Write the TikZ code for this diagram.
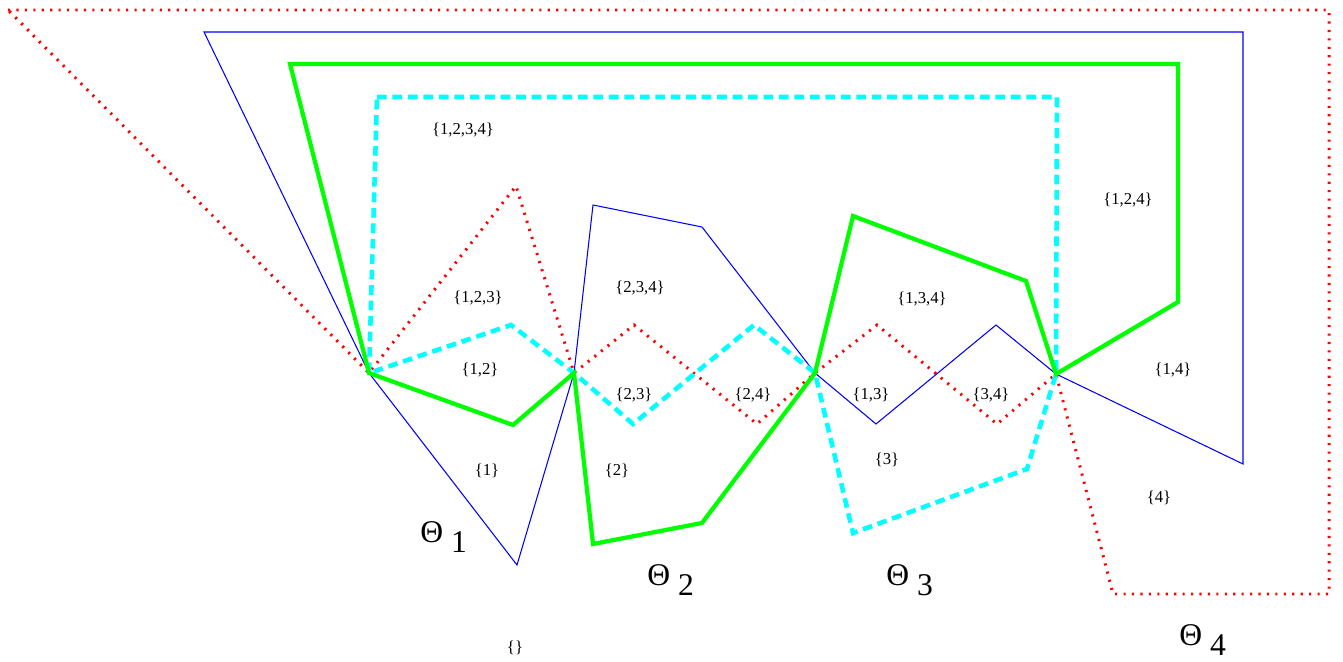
\documentclass[tikz,border=0pt]{standalone}
\usepackage{fontspec}
\setmainfont{Liberation Serif}
\definecolor{cred}{RGB}{255,0,0}
\definecolor{cblue}{RGB}{0,0,255}
\definecolor{cgreen}{RGB}{0,255,0}
\definecolor{ccyan}{RGB}{0,255,255}
\newcommand{\Thsub}[1]{Θ \raisebox{-5.7pt}{#1}}

\begin{document}
\begin{tikzpicture}[x=0.02cm, y=-0.02cm,
    redline/.style={cred, line width=1.7pt, dash pattern=on 1.2pt off 3.6pt},
    blueline/.style={cblue, line width=0.6pt},
    greenline/.style={cgreen, line width=2.4pt},
    cyanline/.style={ccyan, line width=2.6pt, dash pattern=on 5.5pt off 3.3pt},
    setlbl/.style={font=\fontsize{9.5}{10}\selectfont, inner sep=0pt},
    thlbl/.style={font=\fontsize{18}{20}\selectfont, inner sep=0pt, anchor=base west}]
  \useasboundingbox (0,0) rectangle (1343,662);
  % meeting points
  \coordinate (t1) at (369,373);
  \coordinate (t2) at (574,373);
  \coordinate (t3) at (815,373);
  \coordinate (t4) at (1056,374);
  % red, dotted
  \draw[redline] (8,10) -- (1329,10) -- (1329,594) -- (1113,594) -- (t4)
    -- (997,424) -- (877,325) -- (t3) -- (757,424) -- (634,325) -- (t2)
    -- (516,186) -- (t1) -- cycle;
  % blue
  \draw[blueline] (204,32) -- (1243,32) -- (1243,464) -- (t4)
    -- (996,325) -- (876,424) -- (t3) -- (702,227) -- (593,205) -- (t2)
    -- (517,565) -- (t1) -- cycle;
  % cyan, dashed
  \draw[cyanline] (377,97) -- (1057,97) -- (t4)
    -- (1027,469) -- (853,533) -- (t3) -- (754,325) -- (633,424) -- (t2)
    -- (511,325) -- (t1) -- cycle;
  % green
  \draw[greenline] (290,64) -- (1178,64) -- (1178,302) -- (t4)
    -- (1026,281) -- (853,216) -- (t3) -- (702,523) -- (593,544) -- (t2)
    -- (513,425) -- (t1) -- cycle;
  % sets
  \node[setlbl] (s1234) at (463,130) {\{1,2,3,4\}};
  \node[setlbl] (s123) at (478,298) {\{1,2,3\}};
  \node[setlbl] (s12) at (480,370) {\{1,2\}};
  \node[setlbl] (s234) at (640,288) {\{2,3,4\}};
  \node[setlbl] (s23) at (634,395) {\{2,3\}};
  \node[setlbl] (s24) at (753,395) {\{2,4\}};
  \node[setlbl] (s134) at (922,299) {\{1,3,4\}};
  \node[setlbl] (s13) at (871,395) {\{1,3\}};
  \node[setlbl] (s34) at (991,395) {\{3,4\}};
  \node[setlbl] (s124) at (1128,200) {\{1,2,4\}};
  \node[setlbl] (s14) at (1173,370) {\{1,4\}};
  \node[setlbl] (s1) at (487,471) {\{1\}};
  \node[setlbl] (s2) at (617,471) {\{2\}};
  \node[setlbl] (s3) at (887,460) {\{3\}};
  \node[setlbl] (s4) at (1159,498) {\{4\}};
  \node[setlbl] (s0) at (515,648) {\{\}};
  % thetas
  \node[thlbl] (th1) at (420,542) {\Thsub{1}};
  \node[thlbl] (th2) at (647,585) {\Thsub{2}};
  \node[thlbl] (th3) at (886,585) {\Thsub{3}};
  \node[thlbl] (th4) at (1179,645) {\Thsub{4}};
\end{tikzpicture}
\end{document}
